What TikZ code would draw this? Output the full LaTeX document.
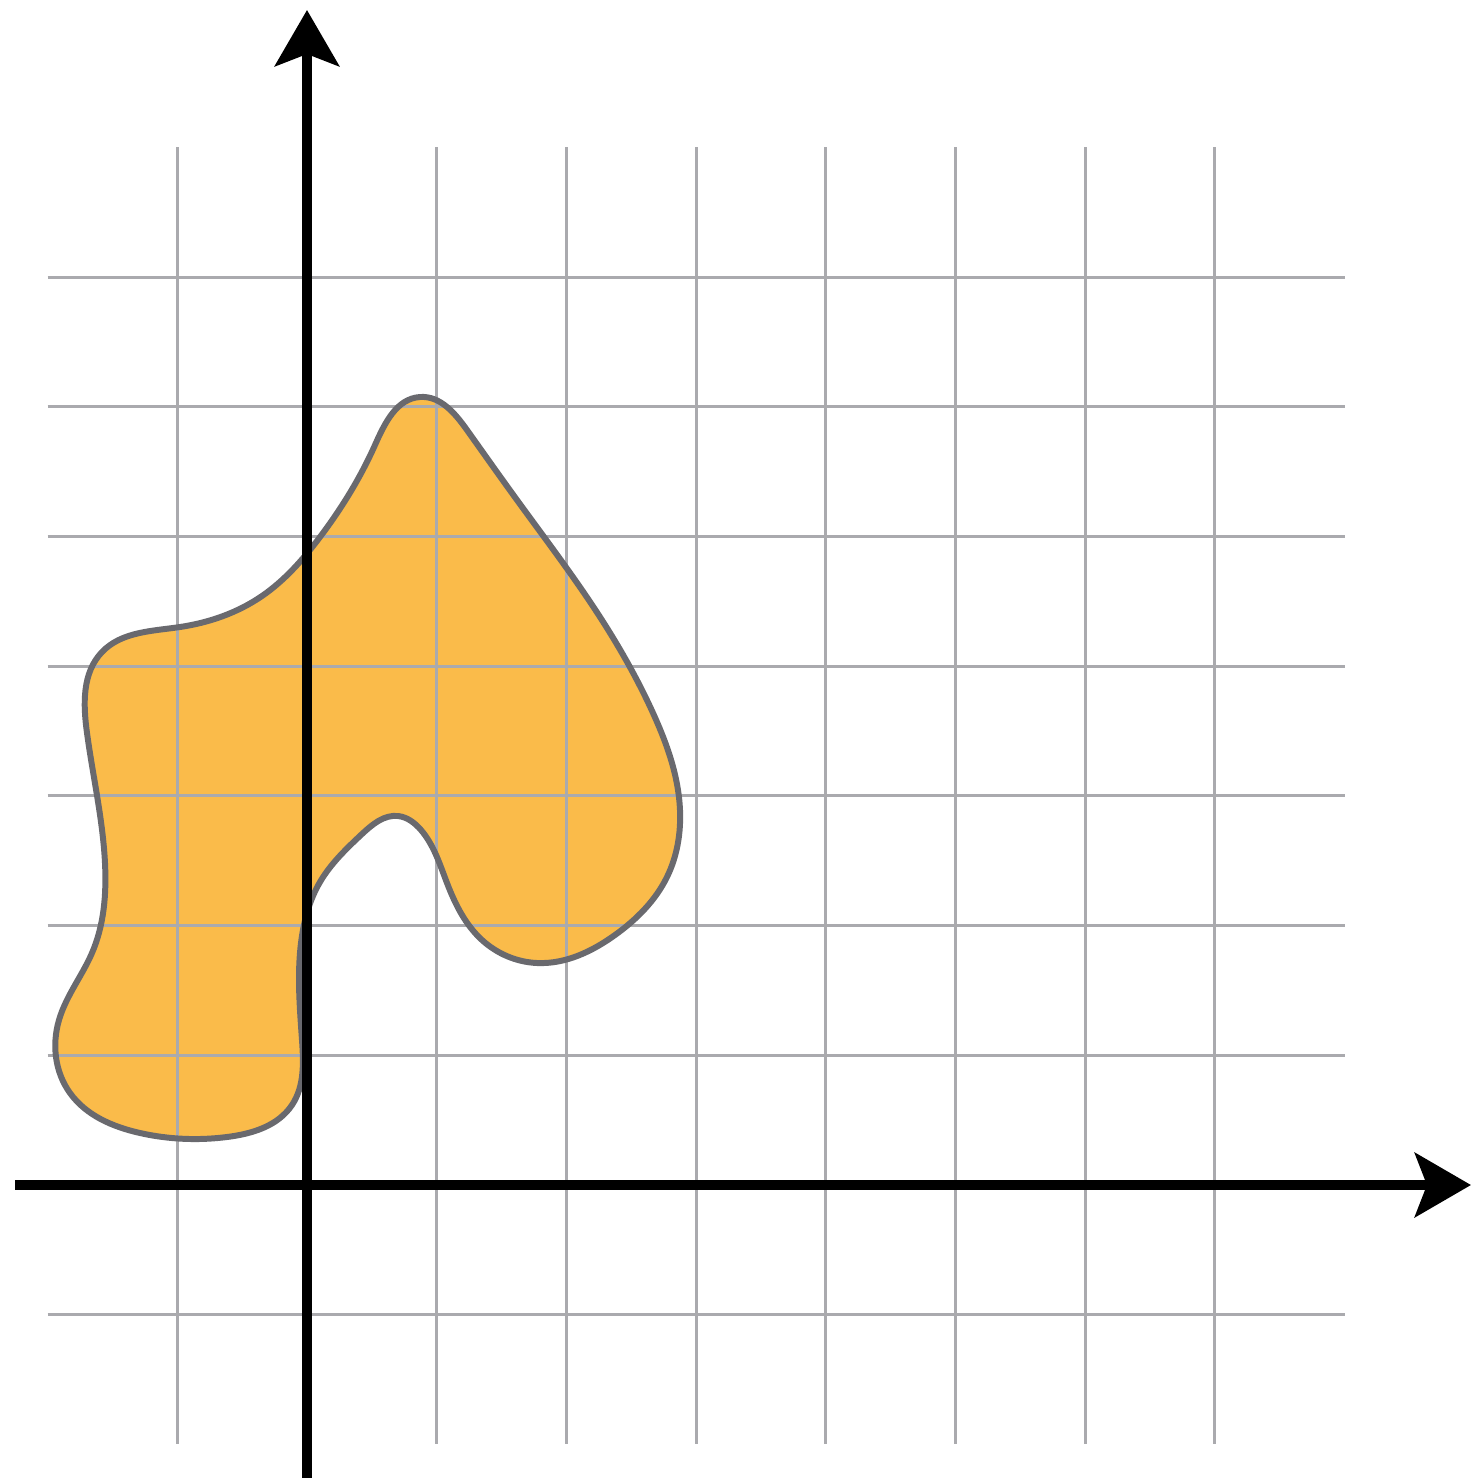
\documentclass[tikz,border=0pt]{standalone}
\usetikzlibrary{arrows.meta,hobby}
\definecolor{blobfill}{RGB}{250,187,74}
\definecolor{blobline}{RGB}{105,105,110}
\definecolor{gridgray}{RGB}{170,170,174}
\begin{document}
\begin{tikzpicture}[x=0.01cm,y=-0.01cm,
  gridline/.style={draw=gridgray,line width=0.85pt},
  axisline/.style={draw=black,line width=2.8pt,-{Stealth[length=0.56cm,width=0.64cm,inset=0.12cm]}},
  blobshape/.style={line width=1.7pt,line join=round}]
\useasboundingbox (0,0) rectangle (1471,1478);
\fill[white] (0,0) rectangle (1471,1478);
\def\blobpath{[use Hobby shortcut,closed=true]
(420,397) .. (467,430) .. (517,500) .. (600,617) .. (653,713) .. (680,810) .. (667,877) .. (615,935) .. (537,963) .. (482,940) .. (447,883) .. (421,830) .. (398,816) .. (362,834) .. (320,882) .. (301,943) .. (302,1040) .. (292,1105) .. (227,1137) .. (140,1133) .. (70,1093) .. (59,1020) .. (92,953) .. (105,863) .. (87,733) .. (102,652) .. (180,627) .. (262,596) .. (320,537) .. (375,445)}
\fill[blobfill] \blobpath;
\foreach \k in {-1,1,2,3,4,5,6,7}{
  \draw[gridline] ({307+129.7*\k},147.4) -- ({307+129.7*\k},1444.4);
}
\foreach \k in {-1,1,2,3,4,5,6,7}{
  \draw[gridline] (47.6,{1185-129.7*\k}) -- (1344.6,{1185-129.7*\k});
}
\draw[gridline] (47.6,1185) -- (1344.6,1185);
\draw[gridline] (307,147.4) -- (307,1444.4);
\draw[blobshape,draw=blobline] \blobpath;
\coordinate (xs) at (15,1185);
\coordinate (xe) at (1471,1185);
\coordinate (ys) at (307,1478);
\coordinate (ye) at (307,10);
\draw[axisline] (xs) -- (xe);
\draw[axisline] (ys) -- (ye);
\end{tikzpicture}
\end{document}
